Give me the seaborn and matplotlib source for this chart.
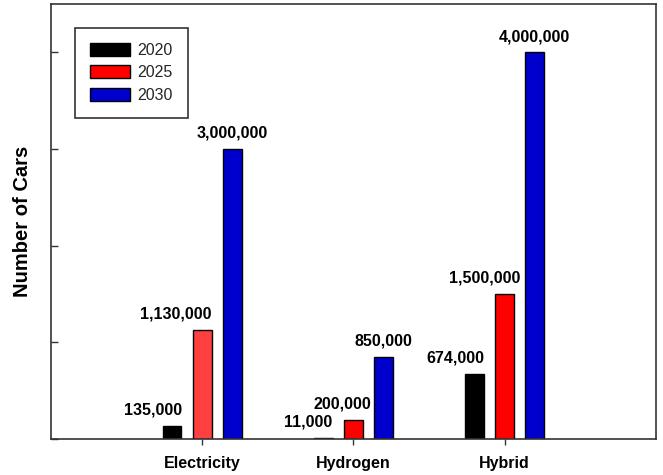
import numpy as np
import pandas as pd
import matplotlib
matplotlib.use("Agg")
import matplotlib.pyplot as plt
import seaborn as sns

# data
fuel_types = ["Electricity", "Hydrogen", "Hybrid"]
years = ["2020", "2025", "2030"]
cars_2020 = [135000, 11000, 674000]
cars_2025 = [1130000, 200000, 1500000]
cars_2030 = [3000000, 850000, 4000000]

# horizontal nudges of the value labels (pixels), per year then per fuel type
label_dx = [[-19, -15, -19], [-26, -11, -20], [0, 0, 0]]

sns.set_theme(style="white")
plt.rcParams['font.family'] = ['Liberation Sans', 'DejaVu Sans']

df = pd.DataFrame({
    "fuel": fuel_types * 3,
    "year": [y for y in years for _ in fuel_types],
    "cars": cars_2020 + cars_2025 + cars_2030,
})

fig = plt.figure(figsize=(6.63, 4.75), dpi=100)
ax = fig.add_axes([0.077, 0.076, 0.912, 0.916])

palette = ["#000000", "#ff0000", "#0000cc"]
sns.barplot(data=df, x="fuel", y="cars", hue="year", order=fuel_types,
            hue_order=years, palette=palette, width=0.6, gap=0.375,
            edgecolor="black", linewidth=1, saturation=1, ax=ax)

# the electricity 2025 bar is a lighter red in the original
ax.containers[1][0].set_facecolor("#ff4040")

for i, cont in enumerate(ax.containers):
    for j, bar in enumerate(cont):
        h = bar.get_height()
        ax.annotate(f"{int(h):,}", (bar.get_x() + bar.get_width() / 2, h),
                    xytext=(label_dx[i][j], 8), textcoords="offset pixels",
                    ha="center", va="bottom", fontsize=11.5, fontweight="bold",
                    color="black")

ax.set_xlim(-1, 3)
ax.set_ylim(0, 4.5e6)
ax.set_yticks([0, 1e6, 2e6, 3e6, 4e6])
ax.set_yticklabels([])
ax.tick_params(axis="y", direction="in", length=5, width=1, color="#333333", left=True)
ax.tick_params(axis="x", direction="out", length=4.3, width=1, color="#333333",
               bottom=True, labelsize=11.5, pad=8, labelcolor="black")
for lab in ax.get_xticklabels():
    lab.set_fontweight("bold")

ax.set_xlabel("")
ax.set_ylabel("Number of Cars", fontsize=14.5, fontweight="bold", labelpad=10,
              color="black")

for sp in ax.spines.values():
    sp.set_visible(True)
    sp.set_color("#333333")
    sp.set_linewidth(1.2)

handles, labels = ax.get_legend_handles_labels()
leg = ax.legend(handles, labels, loc="upper left", bbox_to_anchor=(0.04, 0.945),
                borderaxespad=0, fontsize=11.5, frameon=True, fancybox=False,
                edgecolor="black", handlelength=2.5, handleheight=0.9,
                labelspacing=0.45, borderpad=0.95, handletextpad=0.45)
leg.get_frame().set_linewidth(1.2)

fig.savefig("out.png", dpi=100)
